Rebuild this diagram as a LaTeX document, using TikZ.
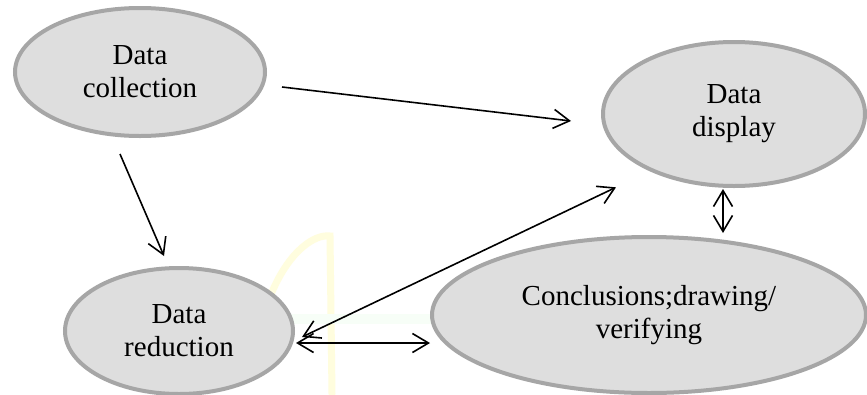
\documentclass[tikz,border=0pt]{standalone}
\usepackage{fontspec}
\setmainfont{Liberation Serif}
\usetikzlibrary{shapes.geometric,arrows.meta}
\begin{document}
\begin{tikzpicture}[x=1pt,y=-1pt,
  stage/.style={ellipse, draw=black!35, line width=4pt, fill=black!13,
    inner sep=0pt, align=center, font=\fontsize{29}{33}\selectfont},
  link/.style={line width=1.6pt, black},
  barb/.style={Straight Barb[length=16pt,width=19pt,line width=1.6pt]},
  tipend/.style={-{Straight Barb[length=16pt,width=19pt,line width=1.6pt]}},
  tipboth/.style={{Straight Barb[length=16pt,width=19pt,line width=1.6pt]}-{Straight Barb[length=16pt,width=19pt,line width=1.6pt]}}]
\useasboundingbox (0,0) rectangle (867,394);
\fill[white] (0,0) rectangle (867,394);

% faint background mark
\draw[line width=7pt, yellow!13, line cap=round] (272,292) .. controls (290,250) and (315,234) .. (330,236) -- (332,394);
\fill[black!9!green!3!white] (290,314) rectangle (445,324);

\node[stage, minimum width=250pt, minimum height=128pt] (coll) at (140,72) {Data\\collection};
\node[stage, minimum width=262pt, minimum height=144pt] (disp) at (734,114) {Data\\display};
\node[stage, minimum width=228pt, minimum height=126pt] (red) at (179,331) {Data\\reduction};
\node[stage, minimum width=434pt, minimum height=156pt] (conc) at (649,315) {Conclusions;drawing/\\verifying};

\draw[link, tipend] ([xshift=15pt,yshift=-15pt]coll.east) -- ([xshift=-30pt,yshift=-7pt]disp.west);
\draw[link, tipend] ([xshift=-20pt,yshift=-16pt]coll.south) -- ([xshift=-15pt,yshift=10pt]red.north);
\draw[link, tipboth] ([xshift=7pt,yshift=-6pt]red.east) -- ([xshift=-24pt,yshift=-21pt]disp.south west);
\draw[link, tipboth] ([xshift=1pt,yshift=-12pt]red.east) -- ([yshift=-28pt]conc.west);
\draw[link, tipboth] ([xshift=-11pt,yshift=-1pt]disp.south) -- ([xshift=74pt,yshift=2pt]conc.north);
\end{tikzpicture}
\end{document}
